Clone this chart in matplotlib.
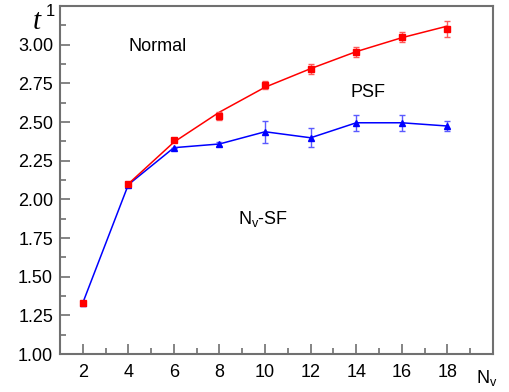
import matplotlib
matplotlib.use('Agg')
import matplotlib.pyplot as plt
from matplotlib.ticker import MultipleLocator

# data
n_v = [2, 4, 6, 8, 10, 12, 14, 16, 18]
psf = [1.33, 2.10, 2.384, 2.538, 2.742, 2.843, 2.952, 3.051, 3.103]
psf_err = [0.0, 0.0, 0.0, 0.026, 0.026, 0.032, 0.031, 0.033, 0.052]
nvsf = [1.33, 2.095, 2.334, 2.358, 2.437, 2.398, 2.495, 2.495, 2.474]
nvsf_err = [0.0, 0.0, 0.0, 0.015, 0.072, 0.061, 0.052, 0.052, 0.032]

# fitted curve through the PSF points
fit_x = [4, 6, 8, 10, 12, 14, 16, 18]
fit_y = [2.10, 2.37, 2.564, 2.725, 2.845, 2.955, 3.045, 3.12]

plt.rcParams['font.family'] = ['Liberation Sans', 'DejaVu Sans']

fig = plt.figure(figsize=(5.1, 3.92), dpi=100)
ax = fig.add_axes([0.1176, 0.0969, 0.849, 0.8878])

ax.plot(n_v, nvsf, color='blue', lw=1.1, zorder=2)
ax.errorbar(n_v, nvsf, yerr=nvsf_err, fmt='^', color='blue', ms=5,
            ecolor='#5a5aff', elinewidth=1, capsize=2, capthick=1, zorder=3)
ax.plot(fit_x, fit_y, color='red', lw=1.1, zorder=4)
ax.errorbar(n_v, psf, yerr=psf_err, fmt='s', color='red', ms=4.5,
            ecolor='#ff5a5a', elinewidth=1, capsize=2, capthick=1, zorder=5)

ax.set_xlim(1, 20)
ax.set_ylim(1, 3.25)
ax.set_xticks(range(2, 19, 2))
ax.xaxis.set_minor_locator(MultipleLocator(1))
ax.set_yticks([1.00, 1.25, 1.50, 1.75, 2.00, 2.25, 2.50, 2.75, 3.00])
ax.set_yticklabels(['1.00', '1.25', '1.50', '1.75', '2.00', '2.25', '2.50', '2.75', '3.00'])
ax.yaxis.set_minor_locator(MultipleLocator(0.125))

ax.tick_params(which='both', direction='in', color='#707070', labelsize=13,
               top=False, right=False)
ax.tick_params(which='major', length=7, width=1.2)
ax.tick_params(which='minor', length=4, width=1.2)
ax.tick_params(axis='x', pad=7)
ax.tick_params(axis='y', pad=5)
for s in ax.spines.values():
    s.set_color('#707070')
    s.set_linewidth(1.5)

ax.text(5.27, 2.99, 'Normal', fontsize=13, ha='center', va='center')
ax.text(14.5, 2.69, 'PSF', fontsize=13, ha='center', va='center')
ax.text(9.9, 1.875, r'N$_\mathregular{v}$-SF', fontsize=13, ha='center', va='center')

fig.text(0.073, 0.945, 't', fontsize=21, ha='center', va='center',
         family='Liberation Serif', style='italic')
fig.text(0.098, 0.97, '1', fontsize=12, ha='center', va='center')
fig.text(0.955, 0.035, r'N$_\mathregular{v}$', fontsize=13, ha='center', va='center')

fig.savefig('out.png', dpi=100)
